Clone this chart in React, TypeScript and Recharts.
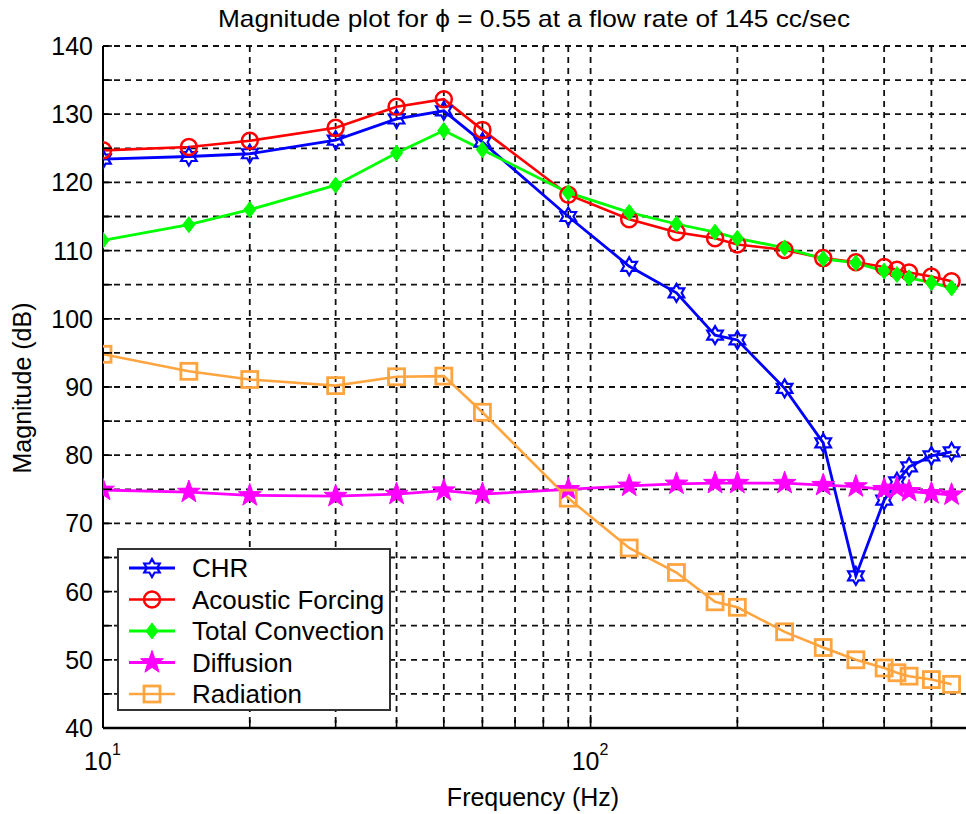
import React from "react";
import { LineChart, Line, XAxis, YAxis, CartesianGrid, Legend } from "recharts";

// frequency response at phi = 0.55, 145 cc/sec
const freqs = [10, 15, 20, 30, 40, 50, 60, 90, 120, 150, 180, 200, 250, 300, 350, 400, 425, 450, 500, 550];
const chr = [123.4, 123.8, 124.2, 126.2, 129.3, 130.5, 125.9, 115.0, 107.7, 103.8, 97.6, 96.9, 89.8, 81.8, 62.3, 73.4, 76.1, 78.3, 79.9, 80.5];
const acousticForcing = [124.7, 125.2, 126.1, 128.0, 131.1, 132.2, 127.7, 118.2, 114.6, 112.7, 111.8, 110.9, 110.1, 108.9, 108.3, 107.6, 107.2, 106.8, 106.2, 105.5];
const totalConvection = [111.5, 113.8, 116.0, 119.6, 124.3, 127.6, 124.8, 118.5, 115.6, 113.9, 112.7, 111.8, 110.4, 108.8, 108.2, 107.0, 106.5, 106.0, 105.3, 104.5];
const diffusion = [74.9, 74.6, 74.1, 74.0, 74.3, 74.8, 74.3, 75.0, 75.5, 75.8, 75.9, 75.9, 75.9, 75.6, 75.4, 75.0, 75.2, 74.7, 74.4, 74.2];
const radiation = [94.8, 92.3, 91.1, 90.2, 91.5, 91.6, 86.3, 73.7, 66.4, 62.8, 58.5, 57.7, 54.1, 51.8, 50.0, 48.8, 48.1, 47.6, 47.1, 46.4];

const xTicks = [10, 20, 30, 40, 50, 60, 70, 80, 90, 100, 200, 300, 400, 500];
const yTicks = [40, 45, 50, 55, 60, 65, 70, 75, 80, 85, 90, 95, 100, 105, 110, 115, 120, 125, 130, 135, 140];

const FONT = "'Liberation Sans', Arial, sans-serif";

const data = freqs.map((f, i) => ({
  f,
  chr: chr[i],
  acoustic: acousticForcing[i],
  convection: totalConvection[i],
  diffusion: diffusion[i],
  radiation: radiation[i],
}));

type MarkerProps = { cx: number; cy: number; color: string };

function starPoints(cx: number, cy: number, n: number, outer: number, inner: number) {
  const pts: string[] = [];
  for (let k = 0; k < n * 2; k++) {
    const a = ((-90 + (180 / n) * k) * Math.PI) / 180;
    const r = k % 2 === 0 ? outer : inner;
    pts.push(`${cx + r * Math.cos(a)},${cy + r * Math.sin(a)}`);
  }
  return pts.join(" ");
}

const Hexagram = ({ cx, cy, color }: MarkerProps) => (
  <polygon points={starPoints(cx, cy, 6, 9, 5.2)} fill="none" stroke={color} strokeWidth={2.2} />
);
const Ring = ({ cx, cy, color }: MarkerProps) => (
  <circle cx={cx} cy={cy} r={8} fill="none" stroke={color} strokeWidth={2.5} />
);
const Diamond = ({ cx, cy, color }: MarkerProps) => (
  <polygon
    points={`${cx},${cy - 8} ${cx + 6},${cy} ${cx},${cy + 8} ${cx - 6},${cy}`}
    fill={color}
    stroke={color}
    strokeWidth={1}
  />
);
const Pentagram = ({ cx, cy, color }: MarkerProps) => (
  <polygon points={starPoints(cx, cy, 5, 12, 4.8)} fill={color} stroke={color} strokeWidth={1} />
);
const Square = ({ cx, cy, color }: MarkerProps) => (
  <rect x={cx - 8} y={cy - 8} width={16} height={16} fill="none" stroke={color} strokeWidth={2.8} />
);

const series = [
  { key: "chr", name: "CHR", color: "#0000ff", width: 2.8, Marker: Hexagram },
  { key: "acoustic", name: "Acoustic Forcing", color: "#ff0000", width: 2.6, Marker: Ring },
  { key: "convection", name: "Total Convection", color: "#00ff00", width: 2.8, Marker: Diamond },
  { key: "diffusion", name: "Diffusion", color: "#ff00ff", width: 2.8, Marker: Pentagram },
  { key: "radiation", name: "Radiation", color: "#ffa540", width: 2.6, Marker: Square },
];

// ticks point into the plot, MATLAB style
const BottomTick = (props: any) => {
  const { x, y, payload } = props;
  const v = payload.value;
  const decade = v === 10 || v === 100;
  return (
    <g>
      <line x1={x} x2={x} y1={y} y2={y - (decade ? 13 : 8)} stroke="#000" strokeWidth={1.6} />
      {decade && (
        <g fontFamily={FONT} fill="#000">
          <text x={x - 5} y={y + 42} fontSize={25} textAnchor="middle">
            10
          </text>
          <text x={x + 9} y={y + 27} fontSize={16} textAnchor="start">
            {v === 10 ? 1 : 2}
          </text>
        </g>
      )}
    </g>
  );
};

const TopTick = (props: any) => {
  const { x, y, payload } = props;
  const decade = payload.value === 10 || payload.value === 100;
  return <line x1={x} x2={x} y1={y} y2={y + (decade ? 13 : 8)} stroke="#000" strokeWidth={1.6} />;
};

const LeftTick = (props: any) => {
  const { x, y, payload } = props;
  const labelled = payload.value % 10 === 0;
  return (
    <g>
      <line x1={x} x2={x + 9} y1={y} y2={y} stroke="#000" strokeWidth={1.6} />
      {labelled && (
        <text x={x - 10} y={y} dy="0.36em" textAnchor="end" fontSize={25} fontFamily={FONT} fill="#000">
          {payload.value}
        </text>
      )}
    </g>
  );
};

const LegendBox = () => (
  <svg width={274} height={163} style={{ display: "block" }}>
    <rect x={1} y={1} width={272} height={161} fill="#fff" stroke="#333" strokeWidth={2} />
    {series.map((s, i) => {
      const y = 20 + i * 31.5;
      const M = s.Marker;
      return (
        <g key={s.key}>
          <line x1={12} x2={58} y1={y} y2={y} stroke={s.color} strokeWidth={s.width} />
          <M cx={35} cy={y} color={s.color} />
          <text x={75} y={y} dy="0.36em" fontSize={26} fontFamily={FONT} fill="#000">
            {s.name}
          </text>
        </g>
      );
    })}
  </svg>
);

export default function App() {
  return (
    <div
      style={{
        position: "absolute",
        left: 0,
        top: 0,
        width: 966,
        height: 814,
        overflow: "hidden",
        background: "#fff",
      }}
    >
      <LineChart width={1000} height={814} data={data} margin={{ top: 46, right: 30, left: 43, bottom: 26 }}>
        <CartesianGrid stroke="#111" strokeWidth={1.8} strokeDasharray="6 5" />
        <XAxis
          dataKey="f"
          type="number"
          scale="log"
          domain={[10, 600]}
          ticks={xTicks}
          allowDataOverflow
          height={60}
          tickSize={0}
          tickMargin={0}
          tick={<BottomTick />}
          axisLine={{ stroke: "#000", strokeWidth: 2.5 }}
          interval={0}
        />
        <XAxis
          xAxisId="top"
          orientation="top"
          dataKey="f"
          type="number"
          scale="log"
          domain={[10, 600]}
          ticks={xTicks}
          allowDataOverflow
          height={0}
          tickSize={0}
          tickMargin={0}
          tick={<TopTick />}
          axisLine={false}
          interval={0}
        />
        <YAxis
          type="number"
          domain={[40, 140]}
          ticks={yTicks}
          width={60}
          tickSize={0}
          tickMargin={0}
          tick={<LeftTick />}
          axisLine={{ stroke: "#000", strokeWidth: 2 }}
          interval={0}
        />
        {series.map((s) => (
          <Line
            key={s.key}
            dataKey={s.key}
            name={s.name}
            stroke={s.color}
            strokeWidth={s.width}
            isAnimationActive={false}
            dot={(p: any) => <s.Marker key={`${s.key}-${p.index}`} cx={p.cx} cy={p.cy} color={s.color} />}
            activeDot={false}
          />
        ))}
        <Legend
          layout="vertical"
          align="center"
          verticalAlign="middle"
          wrapperStyle={{ left: 117, top: 548, width: 274 }}
          content={() => <LegendBox />}
        />
        <text x={534} y={27} textAnchor="middle" fontSize={24} fontFamily={FONT} fill="#000" textLength={632} lengthAdjust="spacingAndGlyphs">
          Magnitude plot for ϕ = 0.55 at a flow rate of 145 cc/sec
        </text>
        <text x={533} y={806} textAnchor="middle" fontSize={25} fontFamily={FONT} fill="#000">
          Frequency (Hz)
        </text>
        <text
          x={31}
          y={388}
          transform="rotate(-90 31 388)"
          textAnchor="middle"
          fontSize={25}
          fontFamily={FONT}
          fill="#000"
        >
          Magnitude (dB)
        </text>
      </LineChart>
    </div>
  );
}
